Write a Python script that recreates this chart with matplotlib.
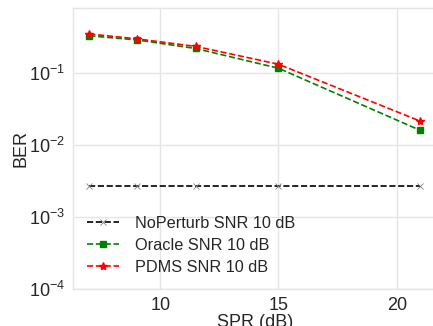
import matplotlib
matplotlib.use("Agg")
import matplotlib.pyplot as plt
import seaborn as sns

spr = [7, 9, 11.5, 15, 21]
noperturb = [2.7e-3, 2.7e-3, 2.7e-3, 2.7e-3, 2.7e-3]
oracle = [0.33, 0.29, 0.22, 0.117, 0.016]
pdms = [0.35, 0.30, 0.235, 0.133, 0.0215]
labels = ["NoPerturb SNR 10 dB", "Oracle SNR 10 dB", "PDMS SNR 10 dB"]

sns.set_style("whitegrid")
plt.rcParams['font.family'] = ['Liberation Sans', 'DejaVu Sans']
plt.rcParams['mathtext.fontset'] = 'custom'
plt.rcParams['mathtext.rm'] = 'Liberation Sans'
plt.rcParams['mathtext.it'] = 'Liberation Sans:italic'
plt.rcParams['mathtext.bf'] = 'Liberation Sans:bold'

fig = plt.figure(figsize=(4.33, 3.26), dpi=100)
ax = fig.add_axes([0.168, 0.1135, 0.841, 0.8615])

ax.plot(spr, noperturb, 'x--', color='black', lw=1.2, ms=5, mew=0.6, mec='gray', label=labels[0])
ax.plot(spr, oracle, 's--', color='green', lw=1.2, ms=5, label=labels[1])
ax.plot(spr, pdms, '*--', color='red', lw=1.2, ms=6, label=labels[2])

ax.set_yscale('log')
ax.set_ylim(1e-4, 0.8)
ax.set_xlim(6.3, 21.7)
ax.set_xticks([10, 15, 20])
ax.grid(True, color='#e5e5e5', lw=1.0)
for s in ax.spines.values():
    s.set_color('#e5e5e5')
    s.set_linewidth(1.0)
ax.tick_params(labelsize=13, pad=2, colors='#262626')
ax.set_xlabel("SPR (dB)", fontsize=13, labelpad=0, color='#262626')
ax.set_ylabel("BER", fontsize=13, color='#262626')
ax.yaxis.set_label_coords(-0.12, 0.5)
leg = ax.legend(loc='lower left', fontsize=11.7, frameon=False, handlelength=2.0,
                borderaxespad=0.45, labelspacing=0.45, handletextpad=1.0)
for t in leg.get_texts():
    t.set_color('#262626')

fig.savefig("out.png", dpi=100)
